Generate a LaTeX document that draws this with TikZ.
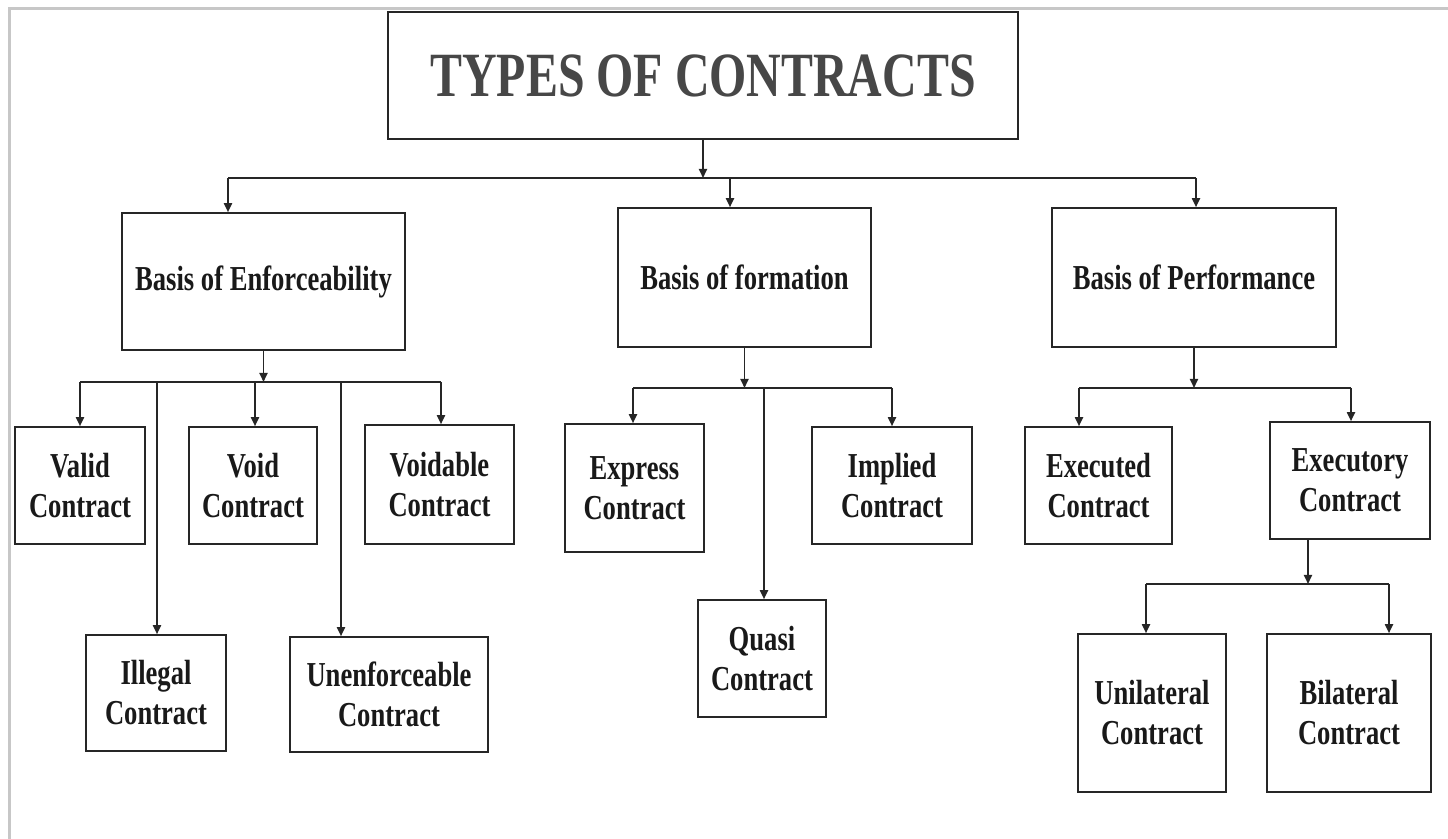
\documentclass[tikz,border=0pt]{standalone}
\usepackage{fontspec}
\setmainfont{Liberation Serif}[FakeStretch=0.76]
\usetikzlibrary{arrows.meta}
\tikzset{
  box/.style={draw=black!85, line width=0.8pt, fill=white, align=center, inner sep=0pt,
    font=\fontsize{17.5}{20}\selectfont\bfseries, text=black!90},
  titlebox/.style={box, font=\fontsize{31.5}{34}\selectfont\bfseries, text=black!72},
  link/.style={draw=black!85, line width=0.9pt},
  arr/.style={link, -{Triangle[length=4.5pt,width=4pt]}},
  frameline/.style={draw=black!22, line width=1.5pt}
}
\begin{document}
\begin{tikzpicture}[x=0.5pt, y=-0.5pt]
\useasboundingbox (0,0) rectangle (1448,839);
% page frame
\draw[frameline] (1448,9) -- (9,9) -- (9,839);

% title
\node[titlebox, minimum width=315pt, minimum height=63.5pt] (title) at (703,75.5) {TYPES OF CONTRACTS};

% three bases
\node[box, minimum width=141.5pt, minimum height=68.5pt] (enf)  at (263.5,281.5) {Basis of Enforceability};
\node[box, minimum width=126.5pt, minimum height=69.5pt] (form) at (744.5,277.5) {Basis of formation};
\node[box, minimum width=142pt,   minimum height=69.5pt] (perf) at (1194,277.5)  {Basis of Performance};

% enforceability children
\node[box, minimum width=65pt,  minimum height=58.5pt] (valid)   at (80,485.5)   {Valid\\Contract};
\node[box, minimum width=64pt,  minimum height=58.5pt] (void)    at (253,485.5)  {Void\\Contract};
\node[box, minimum width=74.5pt,minimum height=59.5pt] (voidable)at (439.5,484.5){Voidable\\Contract};
\node[box, minimum width=70pt,  minimum height=58pt]   (illegal) at (156,693)    {Illegal\\Contract};
\node[box, minimum width=99pt,  minimum height=57.5pt] (unenf)   at (389,694.5)  {Unenforceable\\Contract};

% formation children
\node[box, minimum width=69.5pt,minimum height=64pt]   (express) at (634.5,488)  {Express\\Contract};
\node[box, minimum width=80pt,  minimum height=58.5pt] (implied) at (892,485.5)  {Implied\\Contract};
\node[box, minimum width=64pt,  minimum height=58.5pt] (quasi)   at (762,658.5)  {Quasi\\Contract};

% performance children
\node[box, minimum width=73.5pt,minimum height=58.5pt] (executed) at (1098.5,485.5) {Executed\\Contract};
\node[box, minimum width=80pt,  minimum height=58.5pt] (executory)at (1350,480.5)   {Executory\\Contract};
\node[box, minimum width=74pt,  minimum height=79pt]   (unilat)   at (1152,713)     {Unilateral\\Contract};
\node[box, minimum width=82pt,  minimum height=79pt]   (bilat)    at (1349,713)     {Bilateral\\Contract};

% bus coordinates
\coordinate (b1l) at (228,178);  \coordinate (b1r) at (1196,178); \coordinate (b1m) at (730,178);
\coordinate (b2l) at (80,382);   \coordinate (b2r) at (441,382);
\coordinate (b2a) at (255,382);  \coordinate (b2b) at (157,382);  \coordinate (b2c) at (341,382);
\coordinate (b3l) at (633,388);  \coordinate (b3r) at (892,388);  \coordinate (b3q) at (764,388);
\coordinate (b4l) at (1079,388); \coordinate (b4r) at (1351,388);
\coordinate (b5l) at (1146,584); \coordinate (b5r) at (1389,584);

% title to bases
\draw[arr] (title.south) -- (title.south |- b1l);
\draw[link] (b1l) -- (b1r);
\draw[arr] (b1l) -- (b1l |- enf.north);
\draw[arr] (b1m) -- (b1m |- form.north);
\draw[arr] (b1r) -- (b1r |- perf.north);

% enforceability branch
\draw[arr] (enf.south) -- (enf.south |- b2l);
\draw[link] (b2l) -- (b2r);
\draw[arr] (b2l) -- (b2l |- valid.north);
\draw[arr] (b2a) -- (b2a |- void.north);
\draw[arr] (b2r) -- (b2r |- voidable.north);
\draw[arr] (b2b) -- (b2b |- illegal.north);
\draw[arr] (b2c) -- (b2c |- unenf.north);

% formation branch
\draw[arr] (form.south) -- (form.south |- b3l);
\draw[link] (b3l) -- (b3r);
\draw[arr] (b3l) -- (b3l |- express.north);
\draw[arr] (b3r) -- (b3r |- implied.north);
\draw[arr] (b3q) -- (b3q |- quasi.north);

% performance branch
\draw[arr] (perf.south) -- (perf.south |- b4l);
\draw[link] (b4l) -- (b4r);
\draw[arr] (b4l) -- (b4l |- executed.north);
\draw[arr] (b4r) -- (b4r |- executory.north);

% executory branch
\draw[arr] ([xshift=-21pt]executory.south) -- ([xshift=-21pt]executory.south |- b5l);
\draw[link] (b5l) -- (b5r);
\draw[arr] (b5l) -- (b5l |- unilat.north);
\draw[arr] (b5r) -- (b5r |- bilat.north);
\end{tikzpicture}
\end{document}
